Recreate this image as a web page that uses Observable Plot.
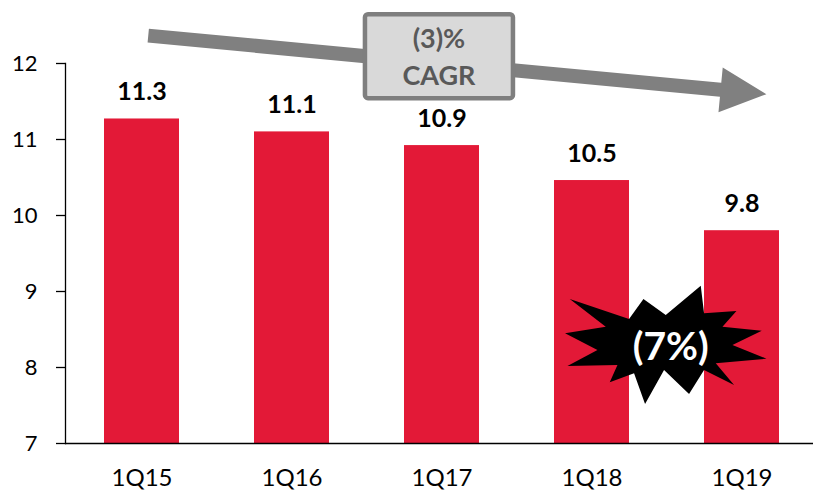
<!DOCTYPE html>
<html><head><meta charset="utf-8">
<script src="https://cdn.jsdelivr.net/npm/d3@7"></script>
<script src="https://cdn.jsdelivr.net/npm/@observablehq/plot@0.6"></script>
<style>
body{margin:0;background:#fff;}
#chart svg{display:block;font-family:Lato, "Open Sans", sans-serif;}
</style>
</head><body><div id="chart"></div>
<script>
const categories = ["1Q15", "1Q16", "1Q17", "1Q18", "1Q19"];
const values = [11.27, 11.10, 10.92, 10.46, 9.80];
const valueLabels = ["11.3", "11.1", "10.9", "10.5", "9.8"];
const yTicks = [7, 8, 9, 10, 11, 12];
const cagrLines = ["(3)%", "CAGR"];
const changeLabel = "(7%)";

const data = categories.map((c, i) => ({cat: c, value: values[i], label: valueLabels[i]}));

// annotation anchors: u = fractional category index (0 = centre of first bar), v = y value
const arrowFrom = {u: 0.045, v: 12.36};
const arrowTo = {u: 4.166, v: 11.59};
const boxAt = {u: 1.983, v: 12.09};
const burstAt = {u: 3.495, v: 8.29};
const burstShape = [[-100.7,-11.7],[-60,-18.3],[-96,-46],[-36.7,-26],[-22.3,-46],[0,-30],[35,-59.3],[38.3,-31.7],[70.7,-34],[56.7,-18.3],[96,-14.3],[66.7,0],[100.7,13.7],[50,18.3],[68.3,40],[38.3,25],[23.3,49],[-1.7,25],[-20.7,59],[-31.7,28.3],[-56,37.3],[-48.3,20],[-98.3,21],[-68.3,5]];

function annotations(index, scales) {
  const x = scales.x, y = scales.y;
  const bw = typeof x.bandwidth === "function" ? x.bandwidth() : (x.bandwidth || 0);
  const c0 = x(categories[0]) + bw / 2;
  const step = x(categories[1]) - x(categories[0]);
  const px = u => c0 + u * step;
  const g = d3.create("svg:g");

  // trend arrow
  const p0 = [px(arrowFrom.u), y(arrowFrom.v)];
  const p1 = [px(arrowTo.u), y(arrowTo.v)];
  const len = Math.hypot(p1[0] - p0[0], p1[1] - p0[1]);
  const d = [(p1[0] - p0[0]) / len, (p1[1] - p0[1]) / len];
  const n = [-d[1], d[0]];
  const sw = 7, hw = 22.5, hl = 46;
  const hb = [p1[0] - d[0] * hl, p1[1] - d[1] * hl];
  const pt = (p, k) => [p[0] + n[0] * k, p[1] + n[1] * k];
  const poly = [pt(p0, sw), pt(hb, sw), pt(hb, hw), p1, pt(hb, -hw), pt(hb, -sw), pt(p0, -sw)];
  g.append("polygon").attr("points", poly.map(p => p.join(",")).join(" ")).attr("fill", "#808080");

  // CAGR box
  const bx = px(boxAt.u), by = y(boxAt.v);
  g.append("rect").attr("x", bx - 74).attr("y", by - 42).attr("width", 148).attr("height", 84)
    .attr("rx", 3).attr("fill", "#d9d9d9").attr("stroke", "#7f7f7f").attr("stroke-width", 4.5);
  cagrLines.forEach((t, i) => {
    g.append("text").attr("x", bx).attr("y", by - 8 + i * 37).attr("text-anchor", "middle")
      .attr("font-size", 27).attr("font-weight", "bold").attr("fill", "#595959").text(t);
  });

  // starburst
  const sx = px(burstAt.u), sy = y(burstAt.v);
  g.append("polygon").attr("points", burstShape.map(([a, b]) => `${sx + a},${sy + b}`).join(" ")).attr("fill", "#000");
  g.append("text").attr("x", sx + 5).attr("y", sy + 15).attr("text-anchor", "middle")
    .attr("font-size", 39).attr("font-weight", "bold").attr("fill", "#fff").text(changeLabel);
  return g.node();
}

const chart = Plot.plot({
  width: 813,
  height: 491,
  marginTop: 63,
  marginBottom: 48,
  marginLeft: 65,
  marginRight: 0,
  style: {fontFamily: "Lato, 'Open Sans', sans-serif", background: "#fff"},
  x: {domain: categories, range: [65, 818], paddingInner: 0.5, paddingOuter: 0.25},
  y: {domain: [7, 12]},
  marks: [
    Plot.barY(data, {x: "cat", y1: () => 7, y2: "value", fill: "#e31937"}),
    Plot.frame({anchor: "left", stroke: "#000", strokeWidth: 1.3}),
    Plot.ruleY([7], {stroke: "#000", strokeWidth: 1.3}),
    Plot.axisY({ticks: yTicks, tickSize: 9, tickPadding: 19, fontSize: 22, tickFormat: d => String(d), label: null, stroke: "#000", strokeWidth: 1.3, fill: "#000"}),
    Plot.axisX({tickSize: 0, tickPadding: 25, fontSize: 24, label: null, fill: "#000"}),
    Plot.text(data, {x: "cat", y: "value", text: "label", dy: -19, lineAnchor: "bottom", fontSize: 25, fontWeight: "bold", fill: "#000"}),
    annotations
  ]
});
document.getElementById("chart").appendChild(chart);
</script>
</body></html>
